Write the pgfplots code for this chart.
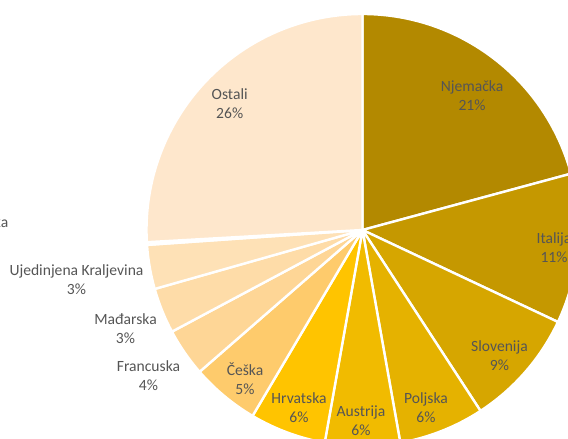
\documentclass[border=0pt]{standalone}
\usepackage{pgfplots}
\usepackage{pgfplotstable}
\pgfplotsset{compat=1.18}
\usepackage{fontspec}
\setmainfont{Carlito}
\definecolor{c1}{RGB}{179,137,0}
\definecolor{c2}{RGB}{197,152,0}
\definecolor{c3}{RGB}{214,166,0}
\definecolor{c4}{RGB}{229,178,0}
\definecolor{c5}{RGB}{241,187,0}
\definecolor{c6}{RGB}{255,196,0}
\definecolor{c7}{RGB}{254,203,108}
\definecolor{c8}{RGB}{254,214,150}
\definecolor{c9}{RGB}{254,220,168}
\definecolor{c10}{RGB}{254,225,182}
\definecolor{c11}{RGB}{254,228,192}
\definecolor{c12}{RGB}{254,231,204}
\definecolor{lbl}{RGB}{85,85,85}
\tikzset{pl/.style={font=\fontsize{11.7}{14.25}\selectfont, text=lbl, align=center, inner sep=0pt}}
\pgfplotstableread{
name value col
Njemacka 20.8 c1
Italija 11.2 c2
Slovenija 8.8 c3
Poljska 6.4 c4
Austrija 5.6 c5
Hrvatska 5.7 c6
Ceska 5.1 c7
Francuska 3.6 c8
Madjarska 3.4 c9
UK 3.3 c10
Slovacka 0.2 c11
Ostali 25.9 c12
}\piedata
\begin{document}
\begin{tikzpicture}
\path[use as bounding box] (0,0) rectangle (426pt,329.25pt);
\clip (0,0) rectangle (426pt,329.25pt);
\begin{axis}[
  x=0.75pt, y=0.75pt,
  xmin=0, xmax=568, ymin=0, ymax=439,
  hide axis, clip=false,
  anchor=origin, at={(0,0)},
]
\def\cum{90}
\pgfplotsforeachungrouped \i in {0,...,11}{%
  \pgfplotstablegetelem{\i}{value}\of\piedata \let\v\pgfplotsretval
  \pgfplotstablegetelem{\i}{col}\of\piedata \let\c\pgfplotsretval
  \pgfmathsetmacro{\endang}{\cum-3.6*\v}%
  \edef\temp{\noexpand\filldraw[fill=\c, draw=white, line width=1.8pt, line join=round] (axis cs:362.5,209) -- +(\cum:162pt) arc[start angle=\cum, end angle=\endang, radius=162pt] -- cycle;}%
  \temp
  \let\cum\endang
}
\node[pl] at (axis cs:472,343.5) {Njemačka\\21\%};
\node[pl] at (axis cs:554,191.5) {Italija\\11\%};
\node[pl] at (axis cs:499.5,83) {Slovenija\\9\%};
\node[pl] at (axis cs:426,31.5) {Poljska\\6\%};
\node[pl] at (axis cs:361,18) {Austrija\\6\%};
\node[pl] at (axis cs:299,31) {Hrvatska\\6\%};
\node[pl] at (axis cs:245,60) {Češka\\5\%};
\node[pl] at (axis cs:148.5,63.7) {Francuska\\4\%};
\node[pl] at (axis cs:125.5,110.7) {Mađarska\\3\%};
\node[pl] at (axis cs:76.5,159) {Ujedinjena Kraljevina\\3\%};
\node[pl,anchor=east] at (axis cs:8.5,207) {Slovačka\\0\%};
\node[pl] at (axis cs:229.7,335.2) {Ostali\\26\%};
\end{axis}
\end{tikzpicture}
\end{document}
